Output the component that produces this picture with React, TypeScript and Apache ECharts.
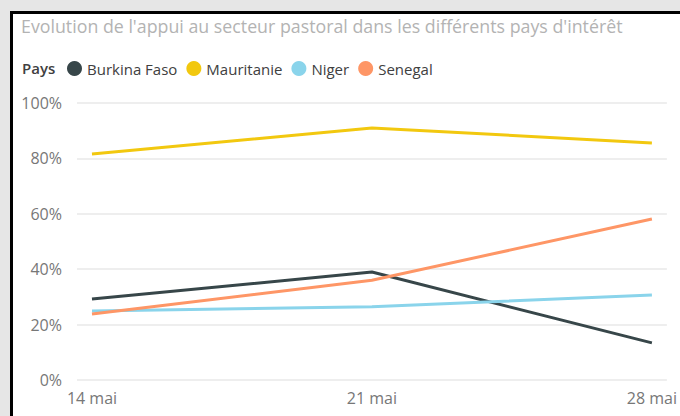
import React, { useEffect, useRef } from "react";
import * as echarts from "echarts";

const categories = ["14 mai", "21 mai", "28 mai"];
const seriesNames = ["Burkina Faso", "Mauritanie", "Niger", "Senegal"];
const burkinaFaso = [0.292, 0.39, 0.134];
const mauritanie = [0.816, 0.91, 0.856];
const niger = [0.249, 0.264, 0.307];
const senegal = [0.238, 0.36, 0.581];
const colors = ["#374649", "#F2C80F", "#8AD4EB", "#FE9666"];
const yTicks = [0, 0.2, 0.4, 0.6, 0.8, 1];

const FONT = "'Segoe UI', 'Open Sans', sans-serif";

export default function App() {
  const ref = useRef<HTMLDivElement>(null);
  useEffect(() => {
    if (!ref.current) return;
    const chart = echarts.init(ref.current, undefined, { renderer: "svg" });
    const values = [burkinaFaso, mauritanie, niger, senegal];
    chart.setOption({
      animation: false,
      title: [
        {
          text: "Evolution de l'appui au secteur pastoral dans les différents pays d'intérêt",
          left: 21,
          top: 17,
          padding: 0,
          textStyle: { fontFamily: FONT, fontSize: 17.8, fontWeight: "normal", color: "#b3b3b3" },
        },
        {
          text: "Pays",
          left: 22,
          top: 60,
          padding: 0,
          textStyle: { fontFamily: FONT, fontSize: 15, fontWeight: 600, color: "#404040" },
        },
      ],
      legend: {
        data: seriesNames,
        left: 67,
        top: 61,
        padding: 0,
        icon: "circle",
        itemWidth: 15,
        itemHeight: 15,
        itemGap: 9,
        textStyle: { fontFamily: FONT, fontSize: 15, color: "#404040" },
      },
      grid: { left: 77, right: 12, top: 103, bottom: 36, containLabel: false },
      xAxis: {
        type: "value",
        min: -0.0535,
        max: 2.0535,
        axisLine: { show: false },
        axisTick: { show: false },
        splitLine: { show: false },
        axisLabel: {
          customValues: [0, 1, 2],
          formatter: (v: number) => categories[Math.round(v)] ?? "",
          fontFamily: FONT,
          fontSize: 16,
          color: "#777777",
          margin: 10,
          showMinLabel: true,
          showMaxLabel: true,
        },
      },
      yAxis: {
        type: "value",
        min: 0,
        max: 1,
        interval: 0.2,
        axisLine: { show: false },
        axisTick: { show: false },
        splitLine: { lineStyle: { color: "#e8e8e8", width: 1.5 } },
        axisLabel: {
          formatter: (v: number) => (yTicks.includes(Math.round(v * 10) / 10) ? Math.round(v * 100) + "%" : ""),
          fontFamily: FONT,
          fontSize: 16,
          color: "#777777",
          margin: 15,
        },
      },
      series: seriesNames.map((name, i) => ({
        name,
        type: "line",
        data: values[i].map((v, j) => [j, v]),
        symbol: "none",
        color: colors[i],
        lineStyle: { width: 3, color: colors[i] },
      })),
    });
    return () => chart.dispose();
  }, []);

  return (
    <div style={{ position: "fixed", left: 0, top: 0, width: 680, height: 416, background: "#e6e6e6", overflow: "hidden" }}>
      <div
        style={{
          position: "absolute",
          left: 10,
          top: 11,
          width: 680,
          height: 420,
          background: "#ffffff",
          borderLeft: "3px solid #000",
          borderTop: "3px solid #000",
        }}
      />
      <div ref={ref} style={{ position: "absolute", left: 0, top: 0, width: 680, height: 416 }} />
    </div>
  );
}
